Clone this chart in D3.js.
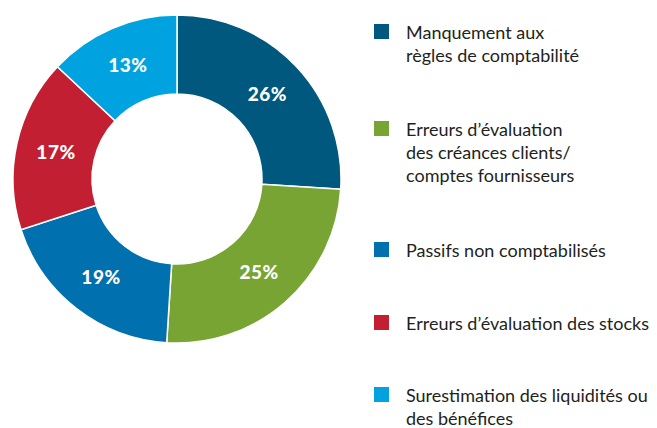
<!DOCTYPE html>
<html>
<head>
<meta charset="utf-8">
<script src="https://cdn.jsdelivr.net/npm/d3@7"></script>
<style>
  body { margin: 0; background: #fff; }
  svg { display: block; }
</style>
</head>
<body>
<script>
"use strict";

var categories = [
    ["Manquement aux", "règles de comptabilité"],
    ["Erreurs d\u2019évaluation", "des créances clients/", "comptes fournisseurs"],
    ["Passifs non comptabilisés"],
    ["Erreurs d\u2019évaluation des stocks"],
    ["Surestimation des liquidités ou", "des bénéfices"]
];
var values = [26, 25, 19, 17, 13];
var colors = ["#00587f", "#78a434", "#0071ae", "#c31f33", "#00a3e0"];
var legendTops = [24, 121, 242, 315, 387];

function draw_donut() {
    var width = 657;
    var height = 428;
    var cx = 177, cy = 179;
    var outer = 164, inner = 85;

    var svg = d3.select("body")
        .append("svg")
        .attr("width", width)
        .attr("height", height);

    var pie = d3.pie().sort(null).value(function(d) { return d; });
    var arcs = pie(values);
    var arc = d3.arc().innerRadius(inner).outerRadius(outer);
    var labelArc = d3.arc().innerRadius(124).outerRadius(124);

    var g = svg.append("g")
        .attr("transform", "translate(" + cx + "," + cy + ")");

    g.selectAll("path")
        .data(arcs)
        .enter()
        .append("path")
        .attr("d", arc)
        .attr("fill", function(d, i) { return colors[i]; })
        .attr("stroke", "#fff")
        .attr("stroke-width", 1.5);

    // percent labels
    g.selectAll("text")
        .data(arcs)
        .enter()
        .append("text")
        .attr("transform", function(d) { return "translate(" + labelArc.centroid(d) + ")"; })
        .attr("text-anchor", "middle")
        .attr("dy", "0.36em")
        .attr("fill", "#fff")
        .style("font-family", "Lato, 'Noto Sans', sans-serif")
        .style("font-weight", 900)
        .style("font-size", "19px")
        .style("letter-spacing", "0.5px")
        .text(function(d) { return d.data + "%"; });

    // legend
    var legend = svg.selectAll("g.legend")
        .data(categories)
        .enter()
        .append("g")
        .attr("class", "legend")
        .attr("transform", function(d, i) { return "translate(374," + legendTops[i] + ")"; });

    legend.append("rect")
        .attr("width", 15)
        .attr("height", 15)
        .attr("fill", function(d, i) { return colors[i]; });

    var txt = legend.append("text")
        .attr("x", 32)
        .attr("y", 15)
        .attr("fill", "#231f20")
        .style("font-family", "Lato, 'Noto Sans', sans-serif")
        .style("font-size", "18px");

    txt.selectAll("tspan")
        .data(function(d) { return d; })
        .enter()
        .append("tspan")
        .attr("x", 32)
        .attr("dy", function(d, i) { return i === 0 ? 0 : 23; })
        .text(function(d) { return d; });
}

draw_donut();
</script>
</body>
</html>
